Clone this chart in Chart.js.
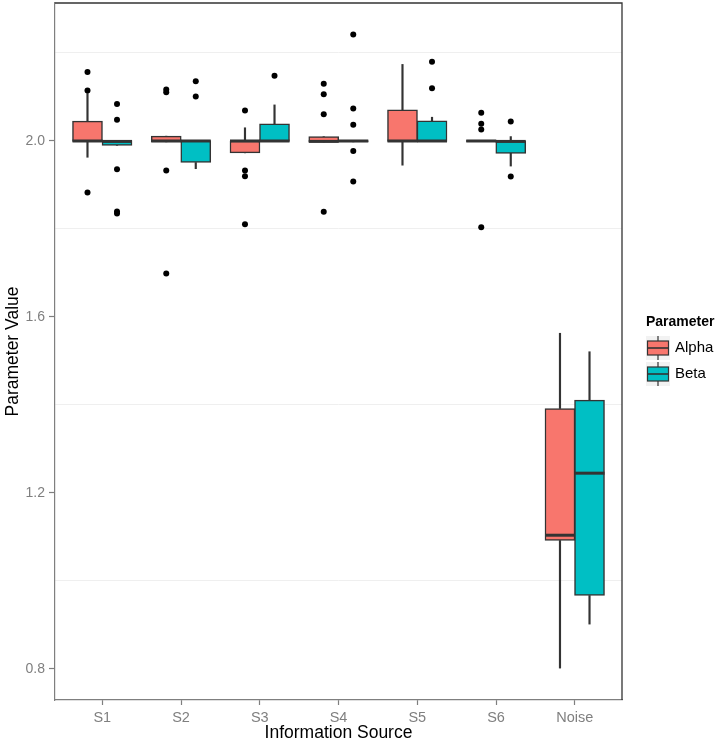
<!DOCTYPE html>
<html>
<head>
<meta charset="utf-8">
<script src="https://cdn.jsdelivr.net/npm/chart.js@4"></script>
<style>body{margin:0;background:#fff}</style>
</head>
<body>
<canvas id="chart" width="723" height="745"></canvas>
<script>
// categories and series
const sources = ['S1', 'S2', 'S3', 'S4', 'S5', 'S6', 'Noise'];
const params = ['Alpha', 'Beta'];
const paramColors = ['#F8766D', '#00BFC4'];

// Alpha boxplot stats
const alphaLow  = [1.963, 1.998, 1.973, 1.998, 1.945, 1.999, 0.802];
const alphaQ1   = [1.999, 1.998, 1.973, 1.998, 1.999, 1.999, 1.092];
const alphaMed  = [2.000, 2.000, 2.000, 1.999, 2.000, 2.000, 1.104];
const alphaQ3   = [2.045, 2.011, 2.000, 2.010, 2.071, 2.001, 1.392];
const alphaHigh = [2.108, 2.011, 2.030, 2.010, 2.174, 2.001, 1.563];
const alphaOut  = [
    [2.157, 2.115, 1.883],
    [2.117, 2.111, 1.933, 1.699],
    [2.069, 1.933, 1.920, 1.811],
    [2.130, 2.106, 2.061, 1.839],
    [],
    [2.064, 2.039, 2.026, 1.804],
    []
];

// Beta boxplot stats
const betaLow  = [1.990, 1.937, 1.999, 1.998, 1.999, 1.943, 0.902];
const betaQ1   = [1.990, 1.951, 1.999, 1.998, 1.999, 1.972, 0.967];
const betaMed  = [1.999, 2.000, 2.000, 2.000, 2.000, 1.999, 1.245];
const betaQ3   = [2.001, 2.001, 2.039, 2.001, 2.046, 2.000, 1.411];
const betaHigh = [2.001, 2.001, 2.082, 2.001, 2.054, 2.010, 1.521];
const betaOut  = [
    [2.084, 2.048, 1.936, 1.840, 1.835],
    [2.136, 2.101],
    [2.148],
    [2.242, 2.074, 2.037, 1.977, 1.908],
    [2.180, 2.120],
    [2.044, 1.919],
    []
];

const yMajor = [0.8, 1.2, 1.6, 2.0];

const FONT = '"Liberation Sans", Arial, sans-serif';
const EDGE = '#333333';
const AXIS = '#7F7F7F';

const boxDatasets = (name, color, off, low, q1, med, q3, high, out) => {
    const xs = sources.map((s, i) => i + 1 + off);
    return [
        {
            type: 'bar', label: name + ' whiskers',
            data: xs.flatMap((x, i) => [{ x, y: [low[i], q1[i]] }, { x, y: [q3[i], high[i]] }]),
            backgroundColor: EDGE, barThickness: 1.5, grouped: false, order: 4
        },
        {
            type: 'bar', label: name,
            data: xs.map((x, i) => ({ x, y: [q1[i], q3[i]] })),
            backgroundColor: color, borderColor: EDGE, borderWidth: 1.5, borderSkipped: false,
            barThickness: 30, grouped: false, order: 3
        },
        {
            type: 'scatter', label: name + ' median',
            data: xs.map((x, i) => ({ x, y: med[i] })),
            pointStyle: 'line', pointRadius: 15, pointBorderColor: EDGE, pointBorderWidth: 3, order: 2
        },
        {
            type: 'scatter', label: name + ' outliers',
            data: xs.flatMap((x, i) => out[i].map(v => ({ x, y: v }))),
            pointRadius: 3, pointBackgroundColor: '#000', pointBorderWidth: 0, order: 1
        }
    ];
};

const frameAndLegend = {
    id: 'frameAndLegend',
    afterDraw(chart) {
        const { ctx, chartArea: a } = chart;
        ctx.save();
        // panel border on top and right
        ctx.strokeStyle = EDGE;
        ctx.lineWidth = 1.3;
        ctx.beginPath();
        ctx.moveTo(a.left, a.top);
        ctx.lineTo(a.right, a.top);
        ctx.lineTo(a.right, a.bottom);
        ctx.stroke();

        // legend
        const lx = 646, ly = 322;
        ctx.fillStyle = '#000';
        ctx.font = 'bold 14px ' + FONT;
        ctx.textBaseline = 'middle';
        ctx.textAlign = 'left';
        ctx.fillText('Parameter', lx, ly);
        params.forEach((p, k) => {
            const top = 336 + 26 * k;
            const cx = lx + 12;
            ctx.fillStyle = '#F2F2F2';
            ctx.fillRect(lx, top, 24, 24);
            ctx.strokeStyle = EDGE;
            ctx.lineWidth = 1.2;
            ctx.beginPath();
            ctx.moveTo(cx, top); ctx.lineTo(cx, top + 24);
            ctx.stroke();
            ctx.fillStyle = paramColors[k];
            ctx.fillRect(lx + 1.5, top + 5, 21, 14);
            ctx.strokeRect(lx + 1.5, top + 5, 21, 14);
            ctx.beginPath();
            ctx.lineWidth = 1.6;
            ctx.moveTo(lx + 1.5, top + 12); ctx.lineTo(lx + 22.5, top + 12);
            ctx.stroke();
            ctx.fillStyle = '#000';
            ctx.font = '15px ' + FONT;
            ctx.fillText(p, lx + 29, top + 12);
        });
        ctx.restore();
    }
};

new Chart(document.getElementById('chart'), {
    type: 'bar',
    data: {
        datasets: [
            ...boxDatasets(params[0], paramColors[0], -0.1875, alphaLow, alphaQ1, alphaMed, alphaQ3, alphaHigh, alphaOut),
            ...boxDatasets(params[1], paramColors[1], 0.1875, betaLow, betaQ1, betaMed, betaQ3, betaHigh, betaOut)
        ]
    },
    options: {
        responsive: false,
        animation: false,
        events: [],
        layout: { autoPadding: false, padding: { top: 3, right: 101, left: 0, bottom: 0 } },
        plugins: { legend: { display: false }, tooltip: { enabled: false } },
        scales: {
            x: {
                type: 'linear', min: 0.4, max: 7.6, offset: false,
                afterFit: s => { s.height = 45; s.paddingLeft = 0; s.paddingRight = 0; },
                border: { color: AXIS, width: 1.2 },
                grid: { offset: false, drawOnChartArea: false, tickLength: 5, tickColor: AXIS, tickWidth: 1.2 },
                afterBuildTicks: s => { s.ticks = sources.map((n, i) => ({ value: i + 1 })); },
                ticks: {
                    padding: 4, color: AXIS, maxRotation: 0, autoSkip: false,
                    font: { family: FONT, size: 14.5 },
                    callback: v => sources[Math.round(v) - 1] || ''
                },
                title: { display: true, text: 'Information Source', color: '#000', padding: { top: 0, bottom: 1 }, font: { family: FONT, size: 17.5 } }
            },
            y: {
                min: 0.7295, max: 2.3136,
                afterFit: s => { s.width = 55; s.paddingTop = 0; s.paddingBottom = 0; },
                border: { color: AXIS, width: 1.2 },
                grid: {
                    tickLength: 6, tickWidth: 1.2,
                    color: c => (Math.round(c.tick.value * 10) % 4 === 2 ? '#EFEFEF' : 'rgba(0,0,0,0)'),
                    tickColor: c => (yMajor.includes(Math.round(c.tick.value * 10) / 10) ? AXIS : 'rgba(0,0,0,0)')
                },
                ticks: {
                    stepSize: 0.2, includeBounds: false, padding: 4, color: AXIS,
                    font: { family: FONT, size: 14 },
                    callback: v => (yMajor.includes(Math.round(v * 10) / 10) ? v.toFixed(1) : '')
                },
                title: { display: true, text: 'Parameter Value', color: '#000', padding: { top: 3, bottom: 0 }, font: { family: FONT, size: 17.5 } }
            }
        }
    },
    plugins: [frameAndLegend]
});
</script>
</body>
</html>
